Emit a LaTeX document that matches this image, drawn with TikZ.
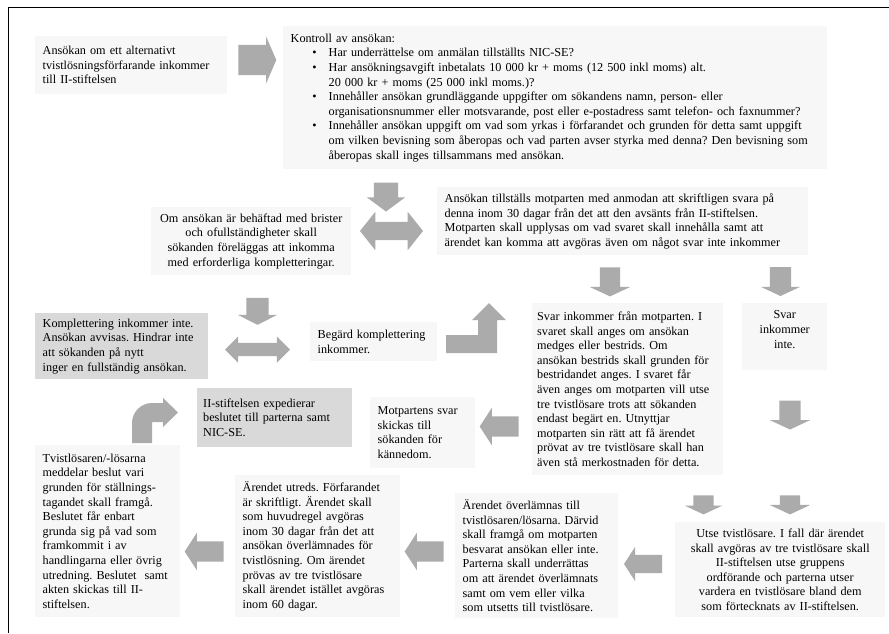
\documentclass[tikz,border=0pt]{standalone}
\usepackage{fontspec}
\setmainfont{Liberation Serif}
\usepackage{enumitem}
\usetikzlibrary{shapes.arrows}
\frenchspacing

\definecolor{boxlight}{HTML}{F7F7F7}
\definecolor{boxdark}{HTML}{D9D9D9}
\definecolor{arrowgray}{HTML}{ABABAB}

\begin{document}
\begin{tikzpicture}[x=1pt,y=-1pt,
    every node/.style={font=\fontsize{12.2}{14.6}\selectfont},
    textbox/.style={fill=boxlight, anchor=north west, inner xsep=7.5pt,
      inner ysep=0pt, align=left},
    greybox/.style={textbox, fill=boxdark},
    blockarrow/.style={single arrow, fill=arrowgray, inner xsep=0pt, inner ysep=10.5pt,
      minimum height=29pt, single arrow head extend=9pt, single arrow tip angle=130},
    downarrow/.style={blockarrow, shape border rotate=270, inner xsep=10.5pt, inner ysep=0pt},
    leftarrow/.style={blockarrow, shape border rotate=180, inner ysep=10pt,
      minimum height=39pt, single arrow head extend=8.5pt, single arrow tip angle=114},
    bothways/.style={double arrow, fill=arrowgray, inner xsep=0pt}
  ]
  \useasboundingbox (0,0) rectangle (889,633);
  \draw[line width=1pt] (8,633) -- (8,7) -- (889,7);

  % first row
  \node[textbox, text width=177pt, minimum height=58pt] (ansokan) at (35,36)
    {Ansökan om ett alternativt\\ tvistlösningsförfarande inkommer\\ till II-stiftelsen};
  \node[textbox, text width=529pt, minimum height=143pt] (kontroll) at (283,26)
    {Kontroll av ansökan:
     \begin{itemize}[nosep, leftmargin=38pt, labelsep=12pt]
     \item Har underrättelse om anmälan tillställts NIC-SE?
     \item Har ansökningsavgift inbetalats 10 000 kr + moms (12 500 inkl moms) alt.\\
       20 000 kr + moms (25 000 inkl moms.)?
     \item Innehåller ansökan grundläggande uppgifter om sökandens namn, person- eller\\
       organisationsnummer eller motsvarande, post eller e-postadress samt telefon- och faxnummer?
     \item Innehåller ansökan uppgift om vad som yrkas i förfarandet och grunden för detta samt uppgift\\
       om vilken bevisning som åberopas och vad parten avser styrka med denna? Den bevisning som\\
       åberopas skall inges tillsammans med ansökan.
     \end{itemize}};
  \node[blockarrow, inner ysep=15pt, minimum height=38pt,
    single arrow head extend=8pt, single arrow tip angle=133] (a1) at (254,60) {};

  % second row
  \node[downarrow, inner xsep=12pt, single arrow head extend=7pt,
    single arrow tip angle=107] (a2) at (386,192.5) {};
  \node[textbox, align=center, text width=185pt, minimum height=68pt] (brister) at (151,207)
    {Om ansökan är behäftad med brister\\ och ofullständigheter skall\\
     sökanden föreläggas att inkomma\\ med erforderliga kompletteringar.};
  \node[bothways, inner ysep=9pt, minimum height=63pt,
    double arrow head extend=10pt, double arrow tip angle=103] (a3) at (391.5,231) {};
  \node[textbox, text width=356pt, minimum height=68pt] (tillstalls) at (437,187)
    {Ansökan tillställs motparten med anmodan att skriftligen svara på\\
     denna inom 30 dagar från det att den avsänts från II-stiftelsen.\\
     Motparten skall upplysas om vad svaret skall innehålla samt att\\
     ärendet kan komma att avgöras även om något svar inte inkommer};
  \node[downarrow, inner xsep=10pt, single arrow head extend=10pt] (a4) at (610,279.5) {};
  \node[downarrow] (a5) at (780.5,279) {};

  % third row
  \node[downarrow, inner xsep=11pt, single arrow head extend=8.5pt,
    single arrow tip angle=126, minimum height=27pt] (a6) at (257.5,308.5) {};
  \node[greybox, text width=158pt, minimum height=66pt] (avvisas) at (35,313)
    {Komplettering inkommer inte.\\ Ansökan avvisas. Hindrar inte\\
     att sökanden på nytt\\ inger en fullständig ansökan.};
  \node[bothways, inner ysep=6.5pt, minimum height=65pt,
    double arrow head extend=6.5pt, double arrow tip angle=90] (a7) at (257.5,349.5) {};
  \node[textbox, text width=112pt, minimum height=39pt] (begard) at (310,322)
    {Begärd komplettering\\ inkommer.};
  \fill[arrowgray] (446,353) -- (497,353) -- (497,320) -- (506,320) -- (489,303)
    -- (472,320) -- (478,320) -- (478,335) -- (446,335) -- cycle;
  \node[textbox, inner xsep=5pt, text width=181pt, minimum height=172pt] (svar) at (532,303)
    {Svar inkommer från motparten. I\\ svaret skall anges om ansökan\\
     medges eller bestrids. Om\\ ansökan bestrids skall grunden för\\
     bestridandet anges. I svaret får\\ även anges om motparten vill utse\\
     tre tvistlösare trots att sökanden\\ endast begärt en. Utnyttjar\\
     motparten sin rätt att få ärendet\\ prövat av tre tvistlösare skall han\\
     även stå merkostnaden för detta.};
  \node[textbox, align=center, text width=70pt, minimum height=67pt] (inte) at (742,303)
    {Svar\\ inkommer\\ inte.\\ \mbox{}};

  % fourth row
  \node[greybox, inner xsep=6pt, text width=143pt, minimum height=59pt] (expedierar) at (197,388)
    {II-stiftelsen expedierar\\ beslutet till parterna samt\\ NIC-SE.};
  \node[textbox, text width=90pt, minimum height=71pt] (kannedom) at (370,397)
    {Motpartens svar\\ skickas till\\ sökanden för\\ kännedom.};
  \node[leftarrow] (a9) at (502.5,426.5) {};
  \node[downarrow, single arrow head extend=9.5pt] (a10) at (790,412.5) {};
  \fill[arrowgray] (132,443) -- (132,423) .. controls (132,412) and (141,403) .. (152,403)
    -- (163,403) -- (163,398) -- (178,412.5) -- (163,427) -- (163,422) -- (152,422)
    -- (152,443) -- cycle;

  % last row
  \node[textbox, text width=130pt, minimum height=172pt] (beslut) at (35,445)
    {Tvistlösaren/-lösarna\\ meddelar beslut vari\\ grunden för ställnings-\\
     tagandet skall framgå.\\ Beslutet får enbart\\ grunda sig på vad som\\
     framkommit i av\\ handlingarna eller övrig\\ utredning. Beslutet\ \ samt\\
     akten skickas till II-\\ stiftelsen.};
  \node[leftarrow] (a16) at (207.5,551.5) {};
  \node[textbox, text width=150pt, minimum height=142pt] (utreds) at (235,475)
    {Ärendet utreds. Förfarandet\\ är skriftligt. Ärendet skall\\
     som huvudregel avgöras\\ inom 30 dagar från det att\\
     ansökan överlämnades för\\ tvistlösning. Om ärendet\\
     prövas av tre tvistlösare\\ skall ärendet istället avgöras\\ inom 60 dagar.};
  \node[leftarrow] (a15) at (427.5,551.5) {};
  \node[textbox, text width=148pt, minimum height=125pt] (overlamnas) at (455,493)
    {Ärendet överlämnas till\\ tvistlösaren/lösarna. Därvid\\
     skall framgå om motparten\\ besvarat ansökan eller inte.\\
     Parterna skall underrättas\\ om att ärendet överlämnats\\
     samt om vem eller vilka\\ som utsetts till tvistlösare.};
  \node[leftarrow, inner ysep=9pt, single arrow head extend=8pt,
    minimum height=38pt] (a14) at (646,564) {};
  \node[downarrow, inner xsep=10pt, single arrow head extend=8.5pt,
    minimum height=19pt] (a12) at (703.5,502.5) {};
  \node[downarrow, inner xsep=10pt, single arrow head extend=10pt,
    minimum height=19pt] (a13) at (790,502.5) {};
  \node[textbox, align=center, text width=195pt, minimum height=95pt] (utse) at (675,522)
    {Utse tvistlösare. I fall där ärendet\\ skall avgöras av tre tvistlösare skall\\
     II-stiftelsen utse gruppens\\ ordförande och parterna utser\\
     vardera en tvistlösare bland dem\\ som förtecknats av II-stiftelsen.};
\end{tikzpicture}
\end{document}
